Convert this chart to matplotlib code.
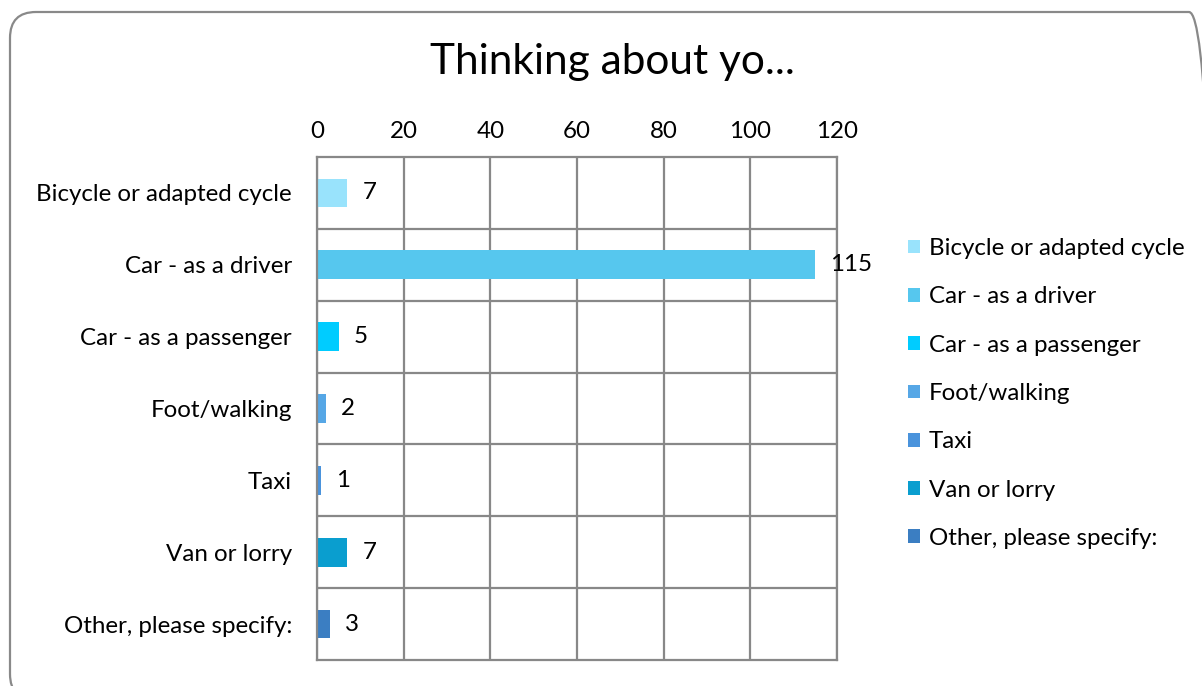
import matplotlib.pyplot as plt
from matplotlib.patches import FancyBboxPatch, Patch
from matplotlib.transforms import IdentityTransform

plt.rcParams['font.family'] = ['Lato', 'DejaVu Sans']

categories = ['Bicycle or adapted cycle', 'Car - as a driver', 'Car - as a passenger',
              'Foot/walking', 'Taxi', 'Van or lorry', 'Other, please specify:']
counts = [7, 115, 5, 2, 1, 7, 3]
colors = ['#99e3fc', '#56c7ee', '#00ccff', '#56a7e6', '#4a93dc', '#0a9ecf', '#3b7ec2']
xticks = [0, 20, 40, 60, 80, 100, 120]

W, H = 1202, 686
fs = 17.4
fig = plt.figure(figsize=(W / 100, H / 100), dpi=100)

# rounded outer frame, in pixels
frame = FancyBboxPatch((10, H - 700), 1205, 688,
                       boxstyle='round,pad=0,rounding_size=26',
                       transform=IdentityTransform(), facecolor='none',
                       edgecolor='#898989', linewidth=1.6, clip_on=False)
fig.patches.append(frame)

ax = fig.add_axes([317 / W, 1 - 660 / H, (837 - 317) / W, (660 - 157) / H])
ypos = list(range(len(categories)))
ax.barh(ypos, counts, height=0.4, color=colors)
for y, v in zip(ypos, counts):
    ax.text(v + 3.5, y, str(v), va='center', ha='left', fontsize=fs)

ax.set_xlim(0, 120)
ax.set_ylim(len(categories) - 0.5, -0.5)
ax.set_xticks(xticks)
ax.xaxis.tick_top()
ax.set_yticks(ypos)
ax.set_yticklabels(categories)
ax.tick_params(axis='both', length=0, labelsize=fs)
ax.tick_params(axis='y', pad=18)
ax.tick_params(axis='x', pad=11)
ax.set_yticks([y + 0.5 for y in ypos[:-1]], minor=True)
ax.tick_params(axis='y', which='minor', length=0)
ax.grid(axis='x', color='#888888', linewidth=1.6)
ax.grid(axis='y', which='minor', color='#888888', linewidth=1.6)
ax.set_axisbelow(True)
for s in ax.spines.values():
    s.set_color('#888888')
    s.set_linewidth(1.6)

fig.text(612 / W, 1 - 62 / H, 'Thinking about yo...', ha='center', va='center', fontsize=30.5)

handles = [Patch(facecolor=c, edgecolor='none') for c in colors]
fig.legend(handles, categories, loc='upper left', bbox_to_anchor=(896 / W, 1 - 226 / H),
           frameon=False, fontsize=fs, handlelength=0.5, handleheight=0.5,
           handletextpad=0.35, labelspacing=1.13, borderpad=0)

fig.savefig('out.png', dpi=100)
